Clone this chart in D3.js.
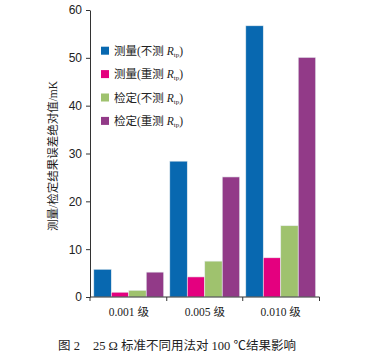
<!DOCTYPE html>
<html lang="zh-CN">
<head>
<meta charset="UTF-8">
<title>25 Ω 标准不同用法对 100 ℃结果影响</title>
<script src="https://d3js.org/d3.v7.min.js"></script>
<style>
    body { margin: 0; background: #fff; }
    svg { display: block; font-family: "Liberation Serif", "Noto Sans CJK SC", serif; }
    .axis path, .axis line { stroke: #333; }
    .axis text { font-size: 12px; fill: #222; }
</style>
</head>
<body>
<svg width="381" height="358"></svg>
<script>
    const categories = ["0.001 级", "0.005 级", "0.010 级"];
    const seriesNames = ["测量(不测", "测量(重测", "检定(不测", "检定(重测"];
    const seriesColors = ["#0868b0", "#e4007f", "#9fc26e", "#923a88"];
    const measureNoRetest = [5.8, 28.4, 56.7];
    const measureRetest = [1.0, 4.2, 8.2];
    const verifyNoRetest = [1.4, 7.5, 14.9];
    const verifyRetest = [5.2, 25.1, 50.1];
    const yTicks = [0, 10, 20, 30, 40, 50, 60];

    const seriesValues = [measureNoRetest, measureRetest, verifyNoRetest, verifyRetest];

    const svg = d3.select("svg");
    const x0 = 90, x1 = 319.5, yBottom = 297, yTop = 10;

    const x = d3.scaleBand().domain(categories).range([x0, x1])
        .paddingInner(0.08).paddingOuter(0.05);
    const xs = d3.scaleBand().domain(d3.range(seriesNames.length)).range([0, x.bandwidth()]);
    const y = d3.scaleLinear().domain([0, 60]).range([yBottom, yTop]);

    // 柱子
    categories.forEach((c, i) => {
        svg.append("g")
            .selectAll("rect")
            .data(seriesValues.map((s, k) => ({ k, v: s[i] })))
            .join("rect")
            .attr("x", d => x(c) + xs(d.k))
            .attr("y", d => y(d.v))
            .attr("width", xs.bandwidth())
            .attr("height", d => y(0) - y(d.v))
            .attr("fill", d => seriesColors[d.k])
            .attr("stroke", "#e8eef0")
            .attr("stroke-width", 0.6);
    });

    // y 轴
    svg.append("g")
        .attr("class", "axis")
        .attr("transform", `translate(${x0},0)`)
        .call(d3.axisLeft(y).tickValues(yTicks).tickSize(4).tickSizeOuter(0).tickPadding(4));

    // x 轴（刻度在类别边界）
    const xAxis = svg.append("g").attr("class", "axis");
    xAxis.append("line")
        .attr("x1", x0).attr("x2", x1)
        .attr("y1", yBottom).attr("y2", yBottom)
        .attr("stroke", "#333");
    const bounds = [x0].concat(categories.map(c => x(c) + x.bandwidth() + x.step() * x.paddingInner() / 2));
    bounds[bounds.length - 1] = x1;
    xAxis.selectAll(".tk").data(bounds).join("line")
        .attr("x1", d => d).attr("x2", d => d)
        .attr("y1", yBottom).attr("y2", yBottom + 4)
        .attr("stroke", "#333");
    xAxis.selectAll(".lbl").data(categories).join("text")
        .attr("x", d => x(d) + x.bandwidth() / 2)
        .attr("y", 316)
        .attr("text-anchor", "middle")
        .style("font-size", "11.5px")
        .attr("fill", "#222")
        .text(d => d);

    // y 轴标题
    svg.append("text")
        .attr("transform", "translate(57,156) rotate(-90)")
        .attr("text-anchor", "middle")
        .style("font-size", "11.5px")
        .attr("fill", "#222")
        .text("测量/检定结果误差绝对值/mK");

    // 图例
    const legend = svg.append("g");
    seriesNames.forEach((name, k) => {
        const ly = 50.7 + k * 23.4;
        legend.append("rect")
            .attr("x", 101).attr("y", ly - 4)
            .attr("width", 8).attr("height", 8)
            .attr("fill", seriesColors[k]);
        const t = legend.append("text")
            .attr("x", 114).attr("y", ly + 4)
            .style("font-size", "11.5px")
            .attr("fill", "#222");
        t.append("tspan").text(name + " ");
        t.append("tspan").style("font-style", "italic").text("R");
        t.append("tspan").attr("dy", 2).style("font-size", "7px").text("tp");
        t.append("tspan").attr("dy", -2).text(")");
    });

    // 图题
    const cap = svg.append("text")
        .attr("x", 58).attr("y", 350)
        .style("font-size", "12.5px")
        .attr("fill", "#222");
    cap.append("tspan").text("图 2");
    cap.append("tspan").attr("dx", 13).text("25 Ω 标准不同用法对 100 ℃结果影响");
</script>
</body>
</html>
